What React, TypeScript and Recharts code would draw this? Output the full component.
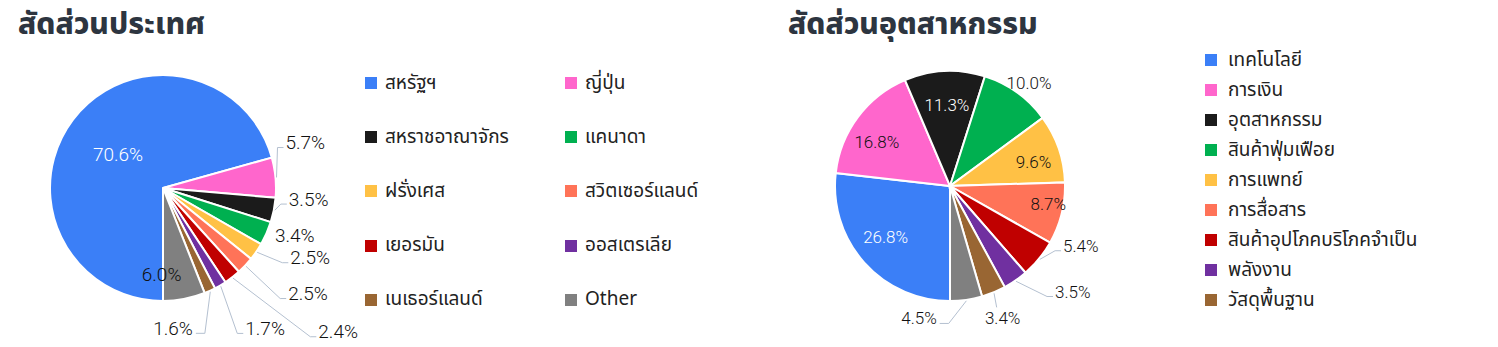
import React from 'react';
import { PieChart, Pie, Cell, Legend } from 'recharts';

// ---------- data ----------
const countryNames = ['สหรัฐฯ', 'ญี่ปุ่น', 'สหราชอาณาจักร', 'แคนาดา', 'ฝรั่งเศส', 'สวิตเซอร์แลนด์', 'เยอรมัน', 'ออสเตรเลีย', 'เนเธอร์แลนด์', 'Other'];
const countryShares = [70.6, 5.7, 3.5, 3.4, 2.5, 2.5, 2.4, 1.7, 1.6, 6.0];

const sectorNames = ['เทคโนโลยี', 'การเงิน', 'อุตสาหกรรม', 'สินค้าฟุ่มเฟือย', 'การแพทย์', 'การสื่อสาร', 'สินค้าอุปโภคบริโภคจำเป็น', 'พลังงาน', 'วัสดุพื้นฐาน', 'Other'];
const sectorShares = [26.8, 16.8, 11.3, 10.0, 9.6, 8.7, 5.4, 3.5, 3.4, 4.5];
const sectorLegendCount = 9;

const sliceColors = ['#3b7ff7', '#ff66cc', '#1b1b1b', '#00b050', '#ffc145', '#ff7358', '#c00000', '#7030a0', '#996633', '#808080'];

const countryData = countryNames.map((name, i) => ({ name, value: countryShares[i] }));
const sectorData = sectorNames.map((name, i) => ({ name, value: sectorShares[i] }));

// ---------- label layout (text placement relative to slice geometry) ----------
type Place = { f?: number; dx: number; dy: number; anchor: 'start' | 'middle' | 'end'; light?: boolean; noLine?: boolean };

const countryLabelLayout: Place[] = [
  { f: 0.5, dx: 0, dy: 1, anchor: 'middle', light: true },
  { dx: 10, dy: -35, anchor: 'start' },
  { dx: 15, dy: -11, anchor: 'start' },
  { dx: 8.5, dy: 2, anchor: 'start', noLine: true },
  { dx: 34, dy: 6, anchor: 'start' },
  { dx: 43, dy: 28, anchor: 'start' },
  { dx: 86, dy: 54.5, anchor: 'start' },
  { dx: 25, dy: 43, anchor: 'start' },
  { dx: -17, dy: 37.5, anchor: 'end' },
  { f: 0.76, dx: -17.5, dy: 2, anchor: 'middle' },
];

const sectorLabelLayout: Place[] = [
  { f: 0.75, dx: 0, dy: -6, anchor: 'middle', light: true },
  { f: 0.75, dx: -4, dy: 8, anchor: 'middle' },
  { f: 0.75, dx: 1, dy: 5, anchor: 'middle', light: true },
  { f: 1.12, dx: 4, dy: 2, anchor: 'middle' },
  { f: 0.75, dx: 2, dy: 4, anchor: 'middle' },
  { f: 0.88, dx: 0, dy: -6, anchor: 'middle' },
  { dx: 24, dy: -13, anchor: 'start' },
  { dx: 39.5, dy: 11, anchor: 'start' },
  { dx: 9, dy: 26, anchor: 'middle' },
  { dx: -29.5, dy: 18.6, anchor: 'end' },
];

const RAD = Math.PI / 180;
const LABEL_FONT = "Roboto, 'Noto Sans', sans-serif";
const THAI_FONT = "'Noto Sans Thai', 'Noto Sans', 'DejaVu Sans', sans-serif";

function makeLabel(layout: Place[], fontSize: number) {
  return (props: any) => {
    const { cx, cy, midAngle, outerRadius, index, value } = props;
    const L = layout[index];
    if (!L) return null;
    const c = Math.cos(-midAngle * RAD);
    const s = Math.sin(-midAngle * RAD);
    const text = Number(value).toFixed(1) + '%';
    const color = L.light ? '#ffffff' : '#111111';
    if (L.f !== undefined) {
      const x = cx + outerRadius * L.f * c + L.dx;
      const y = cy + outerRadius * L.f * s + L.dy;
      return (
        <text x={x} y={y} textAnchor={L.anchor} dominantBaseline="central" fill={color} fontSize={fontSize} fontFamily={LABEL_FONT} fontWeight={300}>
          {text}
        </text>
      );
    }
    const ex = cx + (outerRadius + 1) * c;
    const ey = cy + (outerRadius + 1) * s;
    const tx = cx + outerRadius * c + L.dx;
    const ty = cy + outerRadius * s + L.dy;
    let pts = '';
    if (L.anchor === 'start') {
      pts = `${ex},${ey} ${tx - 8},${ty + 5} ${tx - 2},${ty + 5}`;
    } else if (L.anchor === 'end') {
      pts = `${ex},${ey} ${tx + 12},${ty + 5} ${tx + 3},${ty + 5}`;
    } else {
      pts = `${ex},${ey} ${tx - 6},${ty - 11}`;
    }
    return (
      <g>
        {!L.noLine && <polyline points={pts} fill="none" stroke="#b4c0d0" strokeWidth={1} />}
        <text x={tx} y={ty} textAnchor={L.anchor} dominantBaseline="central" fill={color} fontSize={fontSize} fontFamily={LABEL_FONT} fontWeight={300}>
          {text}
        </text>
      </g>
    );
  };
}

const Swatch = ({ color }: { color: string }) => (
  <span style={{ display: 'inline-block', width: 12, height: 12, background: color, flex: '0 0 12px' }} />
);

const countryLegend = () => (
  <div style={{ display: 'grid', gridTemplateColumns: '200px 200px', gridAutoRows: '54.2px' }}>
    {countryNames.map((name, i) => (
      <div key={name} style={{ display: 'flex', alignItems: 'center', gap: 8, fontFamily: THAI_FONT, fontSize: 19, color: '#222' }}>
        <Swatch color={sliceColors[i]} />
        <span>{name}</span>
      </div>
    ))}
  </div>
);

const sectorLegend = () => (
  <div style={{ display: 'flex', flexDirection: 'column' }}>
    {sectorNames.slice(0, sectorLegendCount).map((name, i) => (
      <div key={name} style={{ height: 30, display: 'flex', alignItems: 'center', gap: 11, fontFamily: THAI_FONT, fontSize: 19, color: '#222' }}>
        <Swatch color={sliceColors[i]} />
        <span>{name}</span>
      </div>
    ))}
  </div>
);

const titleStyle: React.CSSProperties = {
  position: 'absolute',
  fontFamily: "'Noto Sans Thai', 'Noto Sans', sans-serif",
  fontWeight: 800,
  fontSize: 30,
  color: '#2d3540',
  lineHeight: '36px',
  whiteSpace: 'nowrap',
};

export default function App() {
  return (
    <div style={{ position: 'absolute', left: 0, top: 0, width: 1498, height: 347, background: '#fff', overflow: 'hidden' }}>
      <div style={{ ...titleStyle, left: 18, top: 7 }}>สัดส่วนประเทศ</div>
      <div style={{ ...titleStyle, left: 788, top: 7 }}>สัดส่วนอุตสาหกรรม</div>

      <div style={{ position: 'absolute', left: 0, top: 0 }}>
        <PieChart width={760} height={347}>
          <Pie
            data={countryData}
            dataKey="value"
            nameKey="name"
            cx={158}
            cy={183}
            outerRadius={113}
            startAngle={270}
            endAngle={-90}
            stroke="#ffffff"
            strokeWidth={2}
            isAnimationActive={false}
            label={makeLabel(countryLabelLayout, 19)}
            labelLine={false}
          >
            {countryData.map((d, i) => (
              <Cell key={d.name} fill={sliceColors[i]} />
            ))}
          </Pie>
          <Legend
            content={countryLegend}
            wrapperStyle={{ position: 'absolute', left: 365, top: 56, width: 400 }}
          />
        </PieChart>
      </div>

      <div style={{ position: 'absolute', left: 760, top: 0 }}>
        <PieChart width={738} height={347}>
          <Pie
            data={sectorData}
            dataKey="value"
            nameKey="name"
            cx={185}
            cy={181}
            outerRadius={115}
            startAngle={270}
            endAngle={-90}
            stroke="#ffffff"
            strokeWidth={2}
            isAnimationActive={false}
            label={makeLabel(sectorLabelLayout, 17)}
            labelLine={false}
          >
            {sectorData.map((d, i) => (
              <Cell key={d.name} fill={sliceColors[i]} />
            ))}
          </Pie>
          <Legend
            content={sectorLegend}
            wrapperStyle={{ position: 'absolute', left: 445, top: 45, width: 290 }}
          />
        </PieChart>
      </div>
    </div>
  );
}
